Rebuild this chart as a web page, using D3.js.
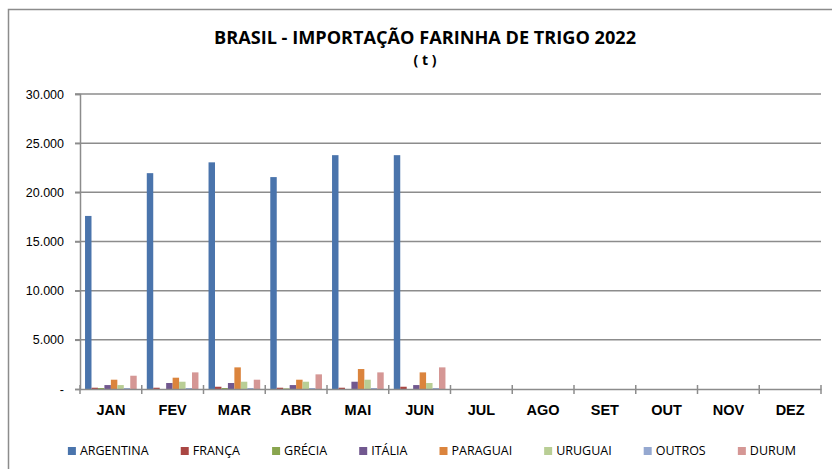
<!DOCTYPE html>
<html>
<head>
<meta charset="utf-8">
<script src="https://cdn.jsdelivr.net/npm/d3@7"></script>
<style>
  body { margin: 0; background: #fff; }
  svg { display: block; font-family: "Open Sans", sans-serif; }
</style>
</head>
<body>
<div id="chart"></div>
<script>
var months = ["JAN", "FEV", "MAR", "ABR", "MAI", "JUN", "JUL", "AGO", "SET", "OUT", "NOV", "DEZ"];
var seriesNames = ["ARGENTINA", "FRANÇA", "GRÉCIA", "ITÁLIA", "PARAGUAI", "URUGUAI", "OUTROS", "DURUM"];
var colors = ["#4A74AC", "#AA4643", "#89A54E", "#71588F", "#DB843D", "#B9CE95", "#95A8D0", "#D59795"];

// toneladas, jan-jun (demais meses sem dados)
var argentina = [17600, 21950, 23050, 21550, 23780, 23780];
var franca    = [130, 130, 230, 130, 130, 230];
var grecia    = [100, 0, 100, 60, 0, 0];
var italia    = [400, 610, 610, 400, 740, 400];
var paraguai  = [945, 1150, 2200, 945, 2030, 1690];
var uruguai   = [400, 740, 740, 740, 945, 610];
var outros    = [100, 100, 100, 100, 100, 100];
var durum     = [1350, 1690, 945, 1490, 1690, 2200];

var yTicks = [0, 5000, 10000, 15000, 20000, 25000, 30000];

var allSeries = [argentina, franca, grecia, italia, paraguai, uruguai, outros, durum];

var W = 832, H = 469;
var margin = {top: 94, right: 11, bottom: 80, left: 80};
var width = W - margin.left - margin.right,
    height = H - margin.top - margin.bottom;

var svg = d3.select("#chart").append("svg")
    .attr("width", W)
    .attr("height", H);

// outer chart border
svg.append("rect")
    .attr("x", 8.5).attr("y", 9.5)
    .attr("width", 900).attr("height", 600)
    .attr("fill", "none")
    .attr("stroke", "#8c8c8c")
    .attr("stroke-width", 1.5);

// title
svg.append("text")
    .attr("x", 425).attr("y", 44)
    .attr("text-anchor", "middle")
    .attr("font-weight", "bold")
    .attr("font-size", 18)
    .attr("textLength", 422)
    .attr("lengthAdjust", "spacingAndGlyphs")
    .attr("fill", "#000")
    .text("BRASIL - IMPORTAÇÃO  FARINHA DE TRIGO 2022");
svg.append("text")
    .attr("x", 425).attr("y", 65)
    .attr("text-anchor", "middle")
    .attr("font-weight", "bold")
    .attr("font-size", 14)
    .attr("fill", "#000")
    .text("( t )");

var g = svg.append("g")
    .attr("transform", "translate(" + margin.left + "," + margin.top + ")");

var x0 = d3.scaleBand().domain(months).range([0, width]).padding(0);
var x1 = d3.scaleBand().domain(d3.range(seriesNames.length))
    .range([0, x0.bandwidth()]).paddingInner(0).paddingOuter(0.78);
var y = d3.scaleLinear().domain([0, 30000]).range([height, 0]);

var fmt = function(d) { return d === 0 ? "-" : d3.format(",")(d).replace(/,/g, "."); };

// gridlines
g.append("g")
  .selectAll("line")
  .data(yTicks.filter(function(d) { return d > 0; }))
  .join("line")
    .attr("x1", -5).attr("x2", width)
    .attr("y1", function(d) { return y(d); })
    .attr("y2", function(d) { return y(d); })
    .attr("stroke", "#8c8c8c")
    .attr("stroke-width", 1.5);

// y axis
var yAxis = g.append("g")
    .call(d3.axisLeft(y).tickValues(yTicks).tickFormat(fmt).tickSize(5).tickPadding(11));
yAxis.select(".domain").attr("stroke", "#8c8c8c").attr("stroke-width", 1.5);
yAxis.selectAll(".tick line").attr("stroke", "#8c8c8c").attr("stroke-width", 1.5);
yAxis.selectAll(".tick text").attr("fill", "#000").attr("font-size", 12.5);

// bars
months.slice(0, argentina.length).forEach(function(m, i) {
  var grp = g.append("g").attr("transform", "translate(" + x0(m) + ",0)");
  allSeries.forEach(function(s, k) {
    if (s[i] == null) return;
    grp.append("rect")
      .attr("x", x1(k))
      .attr("width", x1.bandwidth())
      .attr("y", y(s[i]))
      .attr("height", height - y(s[i]))
      .attr("fill", colors[k]);
  });
});

// x axis
var xAxis = g.append("g")
    .attr("transform", "translate(0," + height + ")")
    .call(d3.axisBottom(x0).tickSize(0).tickPadding(16));
xAxis.select(".domain").attr("stroke", "#8c8c8c").attr("stroke-width", 1.5);
xAxis.selectAll(".tick text")
    .attr("font-weight", "bold").attr("fill", "#000").attr("font-size", 14.5);
// category boundary ticks
xAxis.append("g").selectAll("line")
  .data(months.concat(["end"]))
  .join("line")
    .attr("x1", function(d, i) { return i * x0.step(); })
    .attr("x2", function(d, i) { return i * x0.step(); })
    .attr("y1", -4).attr("y2", 5)
    .attr("stroke", "#8c8c8c")
    .attr("stroke-width", 1.5);

// legend
var legend = svg.append("g").attr("transform", "translate(0,455)");
var items = legend.selectAll("g").data(seriesNames).join("g");
items.append("rect")
    .attr("width", 8).attr("height", 8).attr("y", -8)
    .attr("fill", function(d, i) { return colors[i]; });
items.append("text")
    .attr("x", 12).attr("y", 0)
    .attr("font-size", 12.5).attr("fill", "#000")
    .text(function(d) { return d; });
var cx = 0, pos = [];
items.each(function() {
  pos.push(cx);
  cx += this.getBBox().width + 32;
});
var total = cx - 32;
var start = 432 - total / 2;
items.attr("transform", function(d, i) { return "translate(" + (start + pos[i]) + ",0)"; });
</script>
</body>
</html>
